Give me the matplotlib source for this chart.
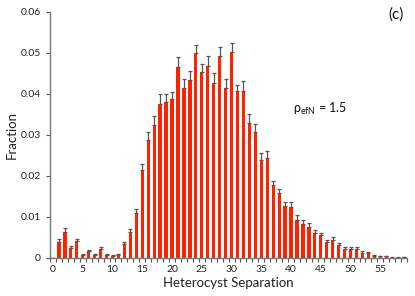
import matplotlib
matplotlib.use("Agg")
import matplotlib.pyplot as plt
import numpy as np

plt.rcParams['font.family'] = ['Lato', 'DejaVu Sans']
plt.rcParams['mathtext.fontset'] = 'custom'
plt.rcParams['mathtext.rm'] = 'Lato'
plt.rcParams['mathtext.it'] = 'Lato'

separation = list(range(0, 60))
fraction = [0.0, 0.0040, 0.0064, 0.0024, 0.0041, 0.0008, 0.0017, 0.0008, 0.0022, 0.0008,
            0.0006, 0.0007, 0.0033, 0.0063, 0.0109, 0.0215, 0.0288, 0.0324, 0.0376, 0.0380,
            0.0388, 0.0465, 0.0414, 0.0433, 0.0499, 0.0454, 0.0469, 0.0426, 0.0492, 0.0415,
            0.0502, 0.0408, 0.0408, 0.0329, 0.0308, 0.0239, 0.0244, 0.0177, 0.0158, 0.0126,
            0.0124, 0.0093, 0.0083, 0.0075, 0.0060, 0.0055, 0.0038, 0.0044, 0.0031, 0.0021,
            0.0021, 0.0021, 0.0013, 0.0011, 0.0005, 0.0004, 0.0004, 0.0001, 0.0001, 0.0002]
error = [0.0, 0.0007, 0.0008, 0.0005, 0.0006, 0.0002, 0.0003, 0.0002, 0.0006, 0.0002,
         0.0001, 0.0002, 0.0006, 0.0007, 0.0010, 0.0015, 0.0020, 0.0023, 0.0024, 0.0019,
         0.0017, 0.0024, 0.0022, 0.0024, 0.0020, 0.0020, 0.0024, 0.0024, 0.0023, 0.0021,
         0.0022, 0.0015, 0.0023, 0.0021, 0.0020, 0.0016, 0.0017, 0.0012, 0.0011, 0.0011,
         0.0012, 0.0011, 0.0010, 0.0010, 0.0008, 0.0007, 0.0006, 0.0007, 0.0006, 0.0006,
         0.0005, 0.0005, 0.0004, 0.0003, 0.0002, 0.0001, 0.0002, 0.0001, 0.0001, 0.0001]
xtick_labels = [0, 5, 10, 15, 20, 25, 30, 35, 40, 45, 50, 55]
ytick_values = [0, 0.01, 0.02, 0.03, 0.04, 0.05, 0.06]
ytick_labels = ['0', '0.01', '0.02', '0.03', '0.04', '0.05', '0.06']

fig = plt.figure(figsize=(4.15, 2.96), dpi=100)
ax = fig.add_axes([0.1205, 0.1284, 0.8605, 0.8311])

ax.bar(separation, fraction, width=0.55, color='#FF2200', zorder=2,
       yerr=[np.zeros(len(error)), error], ecolor='#555555',
       error_kw=dict(elinewidth=0.9, capsize=1.6, capthick=0.9))

ax.set_xlim(-0.5, 59.5)
ax.set_ylim(0, 0.06)
ax.set_yticks(ytick_values)
ax.set_yticklabels(ytick_labels)
ax.set_xticks(xtick_labels)
ax.set_xticklabels([str(v) for v in xtick_labels])
ax.tick_params(axis='x', which='major', length=0, labelsize=7.5, colors='#222222', pad=5)
ax.set_xticks(np.arange(-0.5, 60, 1), minor=True)
ax.tick_params(axis='x', which='minor', length=3, width=0.8, color='#555555')
ax.tick_params(axis='y', length=3, width=0.8, color='#555555', labelsize=7.5, labelcolor='#222222')

for s in ['top', 'right']:
    ax.spines[s].set_visible(False)
for s in ['left', 'bottom']:
    ax.spines[s].set_color('#777777')
    ax.spines[s].set_linewidth(1.0)

ax.set_xlabel('Heterocyst Separation', fontsize=9.5, color='#222222', labelpad=2)
ax.set_ylabel('Fraction', fontsize=9.5, color='#222222', labelpad=2)

fig.text(0.7065, 0.632, 'ρ$_{\\mathrm{efN}}$ = 1.5', fontsize=9, color='#111111',
         ha='left', va='center')
fig.text(0.955, 0.952, '(c)', fontsize=11, color='#111111', ha='center', va='center')

fig.savefig('out.png', dpi=100)
